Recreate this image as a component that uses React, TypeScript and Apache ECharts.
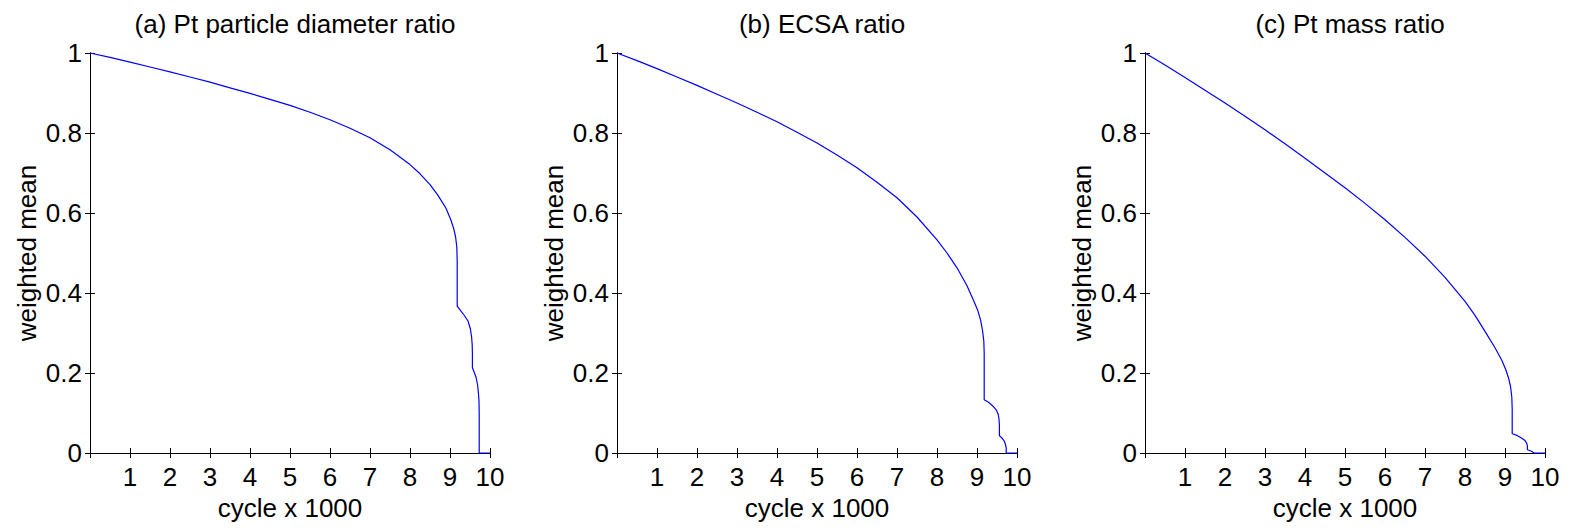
import React, { useEffect, useRef } from "react";
import * as echarts from "echarts";

const titles = ["(a) Pt particle diameter ratio", "(b) ECSA ratio", "(c) Pt mass ratio"];
const xAxisName = "cycle x 1000";
const yAxisName = "weighted mean";

const xA = [0, 0.5, 1, 1.5, 2, 2.5, 3, 3.5, 4, 4.5, 5, 5.5, 6, 6.5, 7, 7.5, 8, 8.25, 8.5, 8.7, 8.9, 9.02, 9.09, 9.14, 9.17, 9.18, 9.18, 9.25, 9.35, 9.45, 9.51, 9.54, 9.555, 9.56, 9.56, 9.6, 9.65, 9.69, 9.71, 9.725, 9.73, 9.73, 10];
const yA = [1, 0.989, 0.977, 0.965, 0.953, 0.94, 0.927, 0.913, 0.899, 0.884, 0.869, 0.852, 0.833, 0.812, 0.788, 0.758, 0.721, 0.698, 0.671, 0.644, 0.612, 0.583, 0.562, 0.54, 0.515, 0.48, 0.367, 0.358, 0.345, 0.33, 0.31, 0.29, 0.27, 0.25, 0.213, 0.203, 0.19, 0.17, 0.15, 0.13, 0.1, 0, 0];

const xB = [0, 0.5, 1, 1.5, 2, 2.5, 3, 3.5, 4, 4.5, 5, 5.5, 6, 6.5, 7, 7.5, 8, 8.25, 8.5, 8.75, 8.92, 9.02, 9.09, 9.14, 9.17, 9.18, 9.18, 9.29, 9.4, 9.48, 9.53, 9.55, 9.56, 9.56, 9.62, 9.68, 9.71, 9.73, 9.73, 10];
const yB = [1, 0.981, 0.961, 0.94, 0.919, 0.897, 0.875, 0.852, 0.828, 0.802, 0.775, 0.745, 0.713, 0.677, 0.638, 0.59, 0.533, 0.5, 0.463, 0.418, 0.38, 0.356, 0.332, 0.305, 0.28, 0.25, 0.133, 0.127, 0.117, 0.108, 0.097, 0.085, 0.07, 0.043, 0.038, 0.03, 0.022, 0.012, 0, 0];

const xC = [0, 0.5, 1, 1.5, 2, 2.5, 3, 3.5, 4, 4.5, 5, 5.5, 6, 6.5, 7, 7.5, 8, 8.25, 8.5, 8.75, 8.92, 9.02, 9.09, 9.14, 9.17, 9.18, 9.18, 9.3, 9.42, 9.5, 9.54, 9.56, 9.56, 9.65, 9.73, 10];
const yC = [1, 0.97, 0.939, 0.907, 0.875, 0.842, 0.808, 0.773, 0.737, 0.7, 0.663, 0.624, 0.583, 0.539, 0.492, 0.439, 0.379, 0.344, 0.304, 0.263, 0.232, 0.208, 0.187, 0.165, 0.14, 0.11, 0.048, 0.044, 0.037, 0.031, 0.025, 0.018, 0.008, 0.005, 0, 0];

const panelsX = [xA, xB, xC];
const panelsY = [yA, yB, yC];

const FONT = "Liberation Sans";
const FS = 26;
const gridLefts = [90, 617, 1145];
const GRID_TOP = 53;
const GRID_SIZE = 400;

export default function App() {
  const ref = useRef<HTMLDivElement>(null);
  useEffect(() => {
    if (!ref.current) return;
    const chart = echarts.init(ref.current, undefined, { renderer: "svg" });
    const axisLine = { show: true, lineStyle: { color: "#000", width: 1 } };
    const tick = { show: true, inside: true, length: 5, lineStyle: { color: "#000" } };
    const grids: any[] = [];
    const xAxes: any[] = [];
    const yAxes: any[] = [];
    const series: any[] = [];
    const title: any[] = [];
    for (let i = 0; i < 3; i++) {
      grids.push({ left: gridLefts[i], top: GRID_TOP, width: GRID_SIZE, height: GRID_SIZE });
      title.push({
        text: titles[i],
        left: gridLefts[i] + GRID_SIZE / 2,
        top: 6,
        textAlign: "center",
        textStyle: { fontFamily: FONT, fontSize: FS, fontWeight: "normal", color: "#000" },
      });
      xAxes.push({
        type: "value",
        gridIndex: i,
        position: "bottom",
        min: 0,
        max: 10,
        interval: 1,
        axisLine,
        axisTick: tick,
        splitLine: { show: false },
        axisLabel: {
          show: true,
          margin: 11,
          fontFamily: FONT,
          fontSize: FS,
          color: "#000",
          formatter: (v: number) => (v === 0 ? "" : String(v)),
        },
        name: xAxisName,
        nameLocation: "middle",
        nameGap: 37,
        nameTextStyle: { fontFamily: FONT, fontSize: FS, color: "#000" },
      });
      xAxes.push({
        type: "value",
        gridIndex: i,
        position: "top",
        min: 0,
        max: 10,
        interval: 1,
        axisLine,
        axisTick: tick,
        splitLine: { show: false },
        axisLabel: { show: false },
      });
      yAxes.push({
        type: "value",
        gridIndex: i,
        position: "left",
        min: 0,
        max: 1,
        interval: 0.2,
        axisLine,
        axisTick: tick,
        splitLine: { show: false },
        axisLabel: { show: true, margin: 8, fontFamily: FONT, fontSize: FS, color: "#000" },
        name: yAxisName,
        nameLocation: "middle",
        nameGap: 50,
        nameTextStyle: { fontFamily: FONT, fontSize: FS, color: "#000" },
      });
      yAxes.push({
        type: "value",
        gridIndex: i,
        position: "right",
        min: 0,
        max: 1,
        interval: 0.2,
        axisLine,
        axisTick: tick,
        splitLine: { show: false },
        axisLabel: { show: false },
      });
      const xs = panelsX[i];
      const ys = panelsY[i];
      series.push({
        type: "line",
        xAxisIndex: i * 2,
        yAxisIndex: i * 2,
        data: xs.map((x, k) => [x, ys[k]]),
        symbol: "none",
        lineStyle: { color: "#0000ff", width: 1.2 },
        clip: false,
      });
    }
    chart.setOption({
      animation: false,
      backgroundColor: "#fff",
      title,
      grid: grids,
      xAxis: xAxes,
      yAxis: yAxes,
      series,
    });
    return () => chart.dispose();
  }, []);
  return (
    <div
      ref={ref}
      style={{ position: "fixed", left: 0, top: 0, width: 1571, height: 530, background: "#fff" }}
    />
  );
}
